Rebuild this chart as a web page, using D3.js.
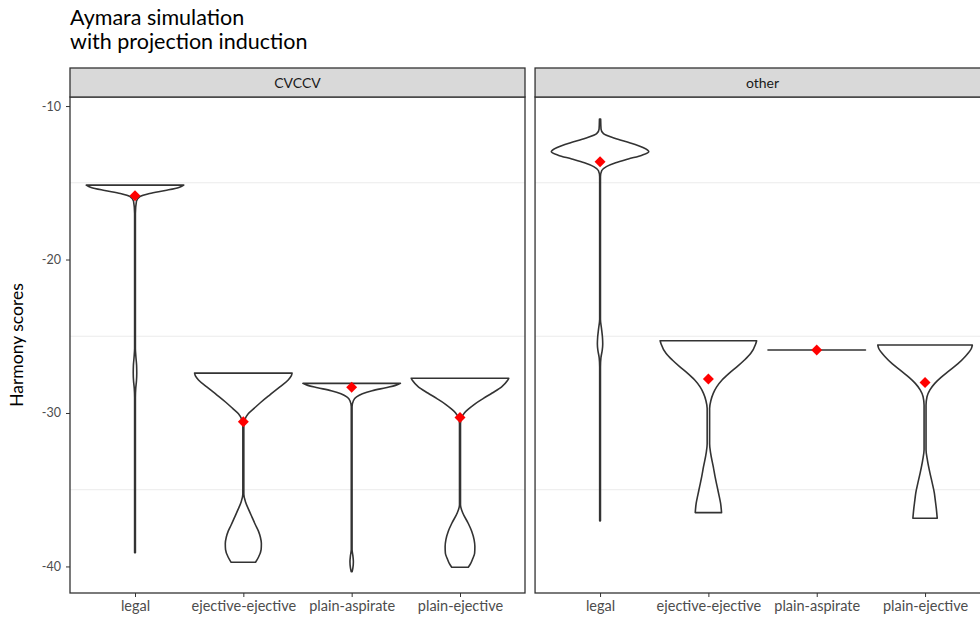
<!DOCTYPE html>
<html>
<head>
<meta charset="utf-8">
<script src="https://cdn.jsdelivr.net/npm/d3@7"></script>
<style>
  body { margin: 0; background: #fff; }
  text { font-family: Lato, "Open Sans", sans-serif; }
</style>
</head>
<body>
<svg id="chart" width="980" height="617"></svg>
<script>
// Facets, categories and axis ticks
const facets = ["CVCCV", "other"];
const categories = ["legal", "ejective-ejective", "plain-aspirate", "plain-ejective"];
const yTicks = [-10, -20, -30, -40];
const yGrid = [-15, -25, -35];

// Violin outlines: [harmony score, relative density width]
const violinCVCCV = {
  "legal": [[-15.15, 1.0], [-15.3, 0.9], [-15.5, 0.62], [-15.7, 0.3], [-15.9, 0.1], [-16.2, 0.03], [-17, 0.008],
            [-25.8, 0.008], [-26.4, 0.02], [-26.9, 0.033], [-27.4, 0.036], [-27.9, 0.03], [-28.4, 0.015], [-29, 0.008], [-39.1, 0.008]],
  "ejective-ejective": [[-27.4, 1.0], [-27.6, 0.98], [-27.85, 0.92], [-28.3, 0.75], [-28.83, 0.54], [-29.3, 0.36], [-29.7, 0.22], [-30.05, 0.1],
            [-30.4, 0.035], [-30.8, 0.01], [-35.3, 0.01], [-35.8, 0.045], [-36.3, 0.11], [-36.8, 0.18], [-37.3, 0.25], [-37.7, 0.31],
            [-38.1, 0.35], [-38.5, 0.37], [-38.9, 0.365], [-39.4, 0.31], [-39.73, 0.25]],
  "plain-aspirate": [[-28.07, 1.0], [-28.2, 0.9], [-28.35, 0.7], [-28.55, 0.42], [-28.75, 0.22], [-28.95, 0.1], [-29.2, 0.035], [-29.6, 0.008],
            [-38.9, 0.008], [-39.3, 0.025], [-39.7, 0.035], [-40.1, 0.025], [-40.34, 0.01]],
  "plain-ejective": [[-27.74, 1.0], [-27.9, 0.97], [-28.28, 0.86], [-28.7, 0.66], [-29.05, 0.48], [-29.4, 0.31], [-29.7, 0.19], [-30.0, 0.09],
            [-30.3, 0.035], [-30.7, 0.01], [-36.0, 0.01], [-36.5, 0.055], [-37.2, 0.17], [-37.7, 0.24], [-38.27, 0.29], [-38.7, 0.305],
            [-39.14, 0.3], [-39.5, 0.26], [-39.8, 0.22], [-40.05, 0.17]]
};
const violinOther = {
  "legal": [[-10.85, 0.012], [-11.5, 0.02], [-11.8, 0.07], [-12.1, 0.3], [-12.4, 0.62], [-12.7, 0.88], [-12.97, 1.0], [-13.2, 0.86],
            [-13.45, 0.58], [-13.7, 0.32], [-13.95, 0.13], [-14.2, 0.035], [-14.6, 0.008],
            [-23.9, 0.008], [-24.5, 0.03], [-25.1, 0.05], [-25.5, 0.055], [-25.9, 0.045], [-26.4, 0.018], [-27, 0.008], [-37.03, 0.008]],
  "ejective-ejective": [[-25.29, 0.99], [-25.5, 0.97], [-26.11, 0.87], [-26.55, 0.74], [-26.98, 0.59], [-27.4, 0.43], [-27.85, 0.28], [-28.3, 0.17],
            [-28.72, 0.1], [-29.2, 0.05], [-29.7, 0.025], [-32.0, 0.025], [-32.6, 0.045], [-33.5, 0.1], [-34.2, 0.14], [-34.8, 0.18],
            [-35.4, 0.22], [-35.88, 0.25], [-36.49, 0.27]],
  "plain-aspirate": [[-25.9, 1.0], [-25.9, 1.0]],
  "plain-ejective": [[-25.57, 0.97], [-25.8, 0.95], [-26.33, 0.82], [-26.8, 0.67], [-27.2, 0.51], [-27.65, 0.34], [-28.07, 0.2], [-28.5, 0.1],
            [-28.94, 0.04], [-29.5, 0.02], [-32.4, 0.02], [-33.1, 0.05], [-33.9, 0.1], [-34.6, 0.15], [-35.2, 0.19], [-35.7, 0.21],
            [-36.2, 0.23], [-36.86, 0.25]]
};
const violins = { "CVCCV": violinCVCCV, "other": violinOther };

// Group means
const meanCVCCV = [-15.85, -30.57, -28.32, -30.3];
const meanOther = [-13.63, -27.79, -25.9, -28.02];
const means = { "CVCCV": meanCVCCV, "other": meanOther };

const svg = d3.select("#chart");
const panelTop = 97, panelBottom = 593, stripTop = 68;
const panelW = 455, panelGap = 10, panelLeft = 70;

const y = d3.scaleLinear().domain([-41.73, -9.41]).range([panelBottom, panelTop]);
const facetX = d3.scaleBand().domain(facets).range([panelLeft, panelLeft + 2 * panelW + panelGap]).paddingInner(panelGap / (panelW + panelGap / 2));
const x = d3.scalePoint().domain(categories).range([0, panelW]).padding(0.6);
const halfW = d3.scaleLinear().domain([0, 1]).range([0, x.step() * 0.45]);

// Title
const title = svg.append("text").attr("x", 70).attr("y", 25).attr("font-size", 21.5).attr("fill", "#000");
title.append("tspan").attr("x", 70).text("Aymara simulation");
title.append("tspan").attr("x", 70).attr("dy", 24).text("with projection induction");

// Y axis title
svg.append("text")
  .attr("transform", `translate(23,${(panelTop + panelBottom) / 2}) rotate(-90)`)
  .attr("text-anchor", "middle").attr("font-size", 17.5).attr("fill", "#000")
  .text("Harmony scores");

// Y axis (left facet only)
const yAxis = svg.append("g").attr("transform", `translate(${panelLeft},0)`)
  .call(d3.axisLeft(y).tickValues(yTicks).tickSize(4).tickPadding(5).tickFormat(d => String(d)));
yAxis.select(".domain").remove();
yAxis.selectAll("line").attr("stroke", "#333").attr("stroke-width", 1);
yAxis.selectAll("text").attr("font-size", 12.5).attr("fill", "#4d4d4d").style("font-family", "Lato, sans-serif");

const area = d3.area()
  .curve(d3.curveMonotoneY)
  .y(d => y(d[0]));

facets.forEach(f => {
  const px = facetX(f);
  const g = svg.append("g").attr("transform", `translate(${px},0)`);

  // grid
  g.selectAll("line.grid").data(yGrid).join("line")
    .attr("x1", 0).attr("x2", panelW)
    .attr("y1", d => y(d)).attr("y2", d => y(d))
    .attr("stroke", "#ebebeb").attr("stroke-width", 1);

  // violins
  categories.forEach(c => {
    const cx = x(c);
    g.append("path")
      .datum(violins[f][c])
      .attr("d", area.x0(d => cx - halfW(d[1])).x1(d => cx + halfW(d[1])))
      .attr("fill", "#fff").attr("stroke", "#333").attr("stroke-width", 1.6)
      .attr("stroke-linejoin", "round");
  });

  // means
  g.selectAll("path.mean").data(means[f]).join("path")
    .attr("d", d3.symbol(d3.symbolSquare, 60)())
    .attr("transform", (d, i) => `translate(${x(categories[i])},${y(d)}) rotate(45)`)
    .attr("fill", "#ff0000");

  // panel border
  g.append("rect").attr("x", 0).attr("y", panelTop).attr("width", panelW).attr("height", panelBottom - panelTop)
    .attr("fill", "none").attr("stroke", "#333").attr("stroke-width", 1.3);

  // strip
  g.append("rect").attr("x", 0).attr("y", stripTop).attr("width", panelW).attr("height", panelTop - stripTop)
    .attr("fill", "#d9d9d9").attr("stroke", "#333").attr("stroke-width", 1.3);
  g.append("text").attr("x", panelW / 2).attr("y", (stripTop + panelTop) / 2 + 5)
    .attr("text-anchor", "middle").attr("font-size", 14).attr("fill", "#1a1a1a").text(f);

  // x axis
  const xAxis = g.append("g").attr("transform", `translate(0,${panelBottom})`)
    .call(d3.axisBottom(x).tickSize(4).tickPadding(4));
  xAxis.select(".domain").remove();
  xAxis.selectAll("line").attr("stroke", "#333").attr("stroke-width", 1);
  xAxis.selectAll("text").attr("font-size", 14.5).attr("fill", "#4d4d4d").style("font-family", "Lato, sans-serif");
});
</script>
</body>
</html>
